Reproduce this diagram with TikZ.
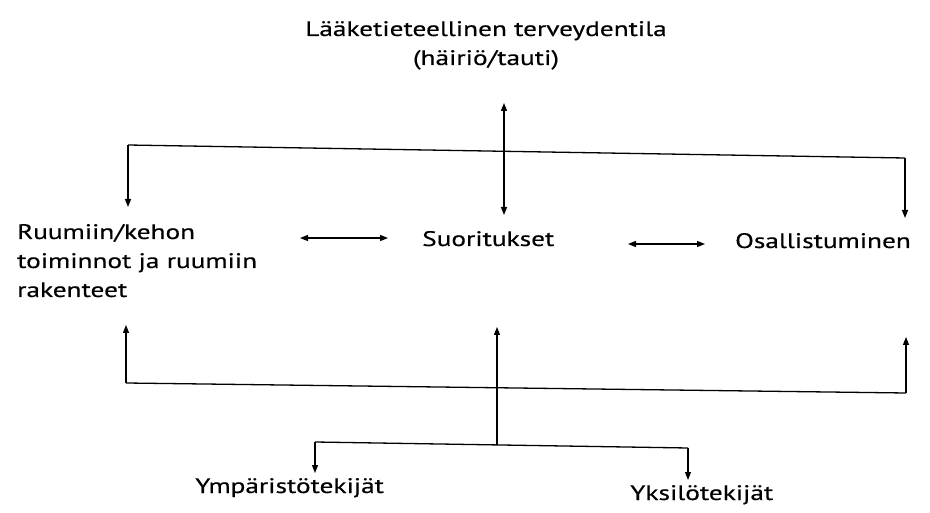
\documentclass[tikz,border=0pt]{standalone}
\usepackage{fontspec}
\setmainfont{PT Sans}[FakeStretch=1.3, FakeBold=0.4]
\usetikzlibrary{arrows.meta}

\tikzset{
    lbl/.style={inner sep=0pt, font=\fontsize{21}{29}\selectfont},
    conn/.style={line width=1.3pt, -{Triangle[length=8pt,width=6pt]}},
    dbl/.style={line width=1.3pt, {Triangle[length=8pt,width=6pt]}-{Triangle[length=8pt,width=6pt]}},
    bar/.style={line width=1.3pt}
}

\begin{document}
\begin{tikzpicture}[x=1pt, y=-1pt]
\useasboundingbox (0,0) rectangle (930,513);

%% Texts
\node[lbl, align=center, anchor=base] (health) at (486,65)
    {Lääketieteellinen terveydentila\\(häiriö/tauti)};
\node[lbl, align=left, anchor=base west] (body) at (17,297)
    {Ruumiin/kehon\\toiminnot ja ruumiin\\rakenteet};
\node[lbl, anchor=base west] (activ) at (422,246) {Suoritukset};
\node[lbl, anchor=base west] (partic) at (735,248) {Osallistuminen};
\node[lbl, anchor=base west] (envir) at (195,493) {Ympäristötekijät};
\node[lbl, anchor=base west] (person) at (630,500) {Yksilötekijät};

%% Junctions
\coordinate (hdown) at (504,103);
\coordinate (aup) at (504,215);
\coordinate (tl) at (128,145);
\coordinate (tr) at (905,158);
\coordinate (bodytop) at (128,207);
\coordinate (partop) at (905,218);
\coordinate (bl) at (126,383);
\coordinate (br) at (906,393);
\coordinate (bodybot) at (126,325);
\coordinate (parbot) at (906,337);
\coordinate (mid) at (497,445);
\coordinate (abot) at (497,327);
\coordinate (fl) at (315,442);
\coordinate (fr) at (688,448);

%% Top branch
\draw[dbl] (hdown) -- (aup);
\draw[bar] (tl) -- (tr);
\draw[conn] (tl) -- (bodytop);
\draw[conn] (tr) -- (partop);

%% Middle row
\draw[dbl] (300,238) -- (388,238);
\draw[dbl] (628,244) -- (705,244);

%% Bottom branch
\draw[conn] (bl) -- (bodybot);
\draw[conn] (br) -- (parbot);
\draw[bar] (bl) -- (br);
\draw[conn] (mid) -- (abot);
\draw[bar] (fl) -- (fr);
\draw[conn] (fl) -- (315,473);
\draw[conn] (fr) -- (688,480);
\end{tikzpicture}
\end{document}
